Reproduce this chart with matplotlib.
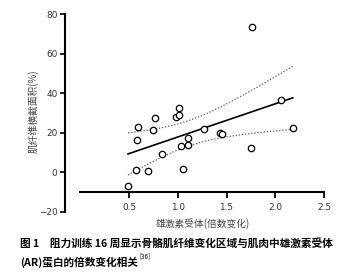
import numpy as np
import matplotlib
matplotlib.use("Agg")
import matplotlib.pyplot as plt

plt.rcParams["font.family"] = ["DejaVu Sans", "Noto Sans CJK SC"]

# fold change of androgen receptor vs change in fibre CSA (%)
ar_fold = [0.49, 0.57, 0.58, 0.59, 0.69, 0.75, 0.77, 0.84, 0.985, 1.01, 1.016,
           1.03, 1.05, 1.10, 1.11, 1.27, 1.43, 1.45, 1.76, 1.75, 2.06, 2.18]
csa_pct = [-7.0, 1.4, 16.4, 22.9, 0.7, 21.4, 27.5, 9.3, 28.1, 28.8, 32.7,
           13.5, 1.9, 14.0, 17.4, 21.9, 19.9, 19.4, 73.3, 12.2, 36.6, 22.6]

x_ticks = [0.5, 1.0, 1.5, 2.0, 2.5]
y_ticks = [-20, 0, 20, 40, 60, 80]

x = np.array(ar_fold)
y = np.array(csa_pct)

# linear fit + 95% confidence band of the mean
slope, intercept = np.polyfit(x, y, 1)
n = len(x)
xs = np.linspace(x.min(), x.max(), 100)
fit = slope * xs + intercept
resid = y - (slope * x + intercept)
s = np.sqrt(np.sum(resid ** 2) / (n - 2))
t_crit = 2.086  # t(0.975, df=20)
se = s * np.sqrt(1 / n + (xs - x.mean()) ** 2 / np.sum((x - x.mean()) ** 2))

fig = plt.figure(figsize=(3.47, 2.76), dpi=100)
ax = fig.add_axes([65 / 347, 1 - 212 / 276, 259 / 347, 198 / 276])

ax.plot(xs, fit, color="black", linewidth=1.2)
ax.plot(xs, fit + t_crit * se, color="#555555", linewidth=0.9, linestyle=(0, (1, 1.5)))
ax.plot(xs, fit - t_crit * se, color="#555555", linewidth=0.9, linestyle=(0, (1, 1.5)))
ax.plot(x, y, linestyle="none", marker="o", markersize=4.6,
        markerfacecolor="white", markeredgecolor="black", markeredgewidth=0.9, zorder=3)

ax.set_xlim(2.5 - 259 / 97.5, 2.5)
ax.set_ylim(-20, 80)

for side in ("top", "right"):
    ax.spines[side].set_visible(False)
ax.spines["left"].set_bounds(-20, 80)
ax.spines["left"].set_linewidth(1.5)
ax.spines["bottom"].set_position(("data", -10))
ax.spines["bottom"].set_bounds(0, 2.5)
ax.spines["bottom"].set_linewidth(1.5)

ax.set_xticks(x_ticks)
ax.set_xticklabels([f"{v:.1f}" for v in x_ticks])
ax.set_yticks(y_ticks)
ax.set_yticklabels([str(v).replace("-", "\u2212") for v in y_ticks])
ax.tick_params(axis="x", length=4, width=1.3, pad=3.5, labelsize=6.4, labelcolor="#333333")
ax.tick_params(axis="y", length=3.5, width=1.2, pad=2, labelsize=6.4, labelcolor="#333333")

cjk = ["Noto Sans CJK SC", "DejaVu Sans"]
fig.text(33 / 347, 1 - 111 / 276, "肌纤维横截面积(%)", rotation=90, ha="center", va="center",
         fontsize=7, color="#444444", family=cjk)
fig.text(203 / 347, 1 - 224 / 276, "雄激素受体(倍数变化)", ha="center", va="center",
         fontsize=7, color="#444444", family=cjk)

fig.text(20 / 347, 1 - 243 / 276, "图 1　阻力训练 16 周显示骨骼肌纤维变化区域与肌肉中雄激素受体",
         ha="left", va="center", fontsize=7.7, weight="bold", family=cjk)
line2 = fig.text(20 / 347, 1 - 262 / 276, "(AR)蛋白的倍数变化相关",
                 ha="left", va="center", fontsize=7.7, weight="bold", family=cjk)
fig.canvas.draw()
bb = line2.get_window_extent()
fig.text((bb.x1 + 1) / 347, (bb.y1 - 4) / 276, "[36]", ha="left", va="bottom",
         fontsize=4.5, family=cjk)

fig.savefig("out.png", dpi=100)
